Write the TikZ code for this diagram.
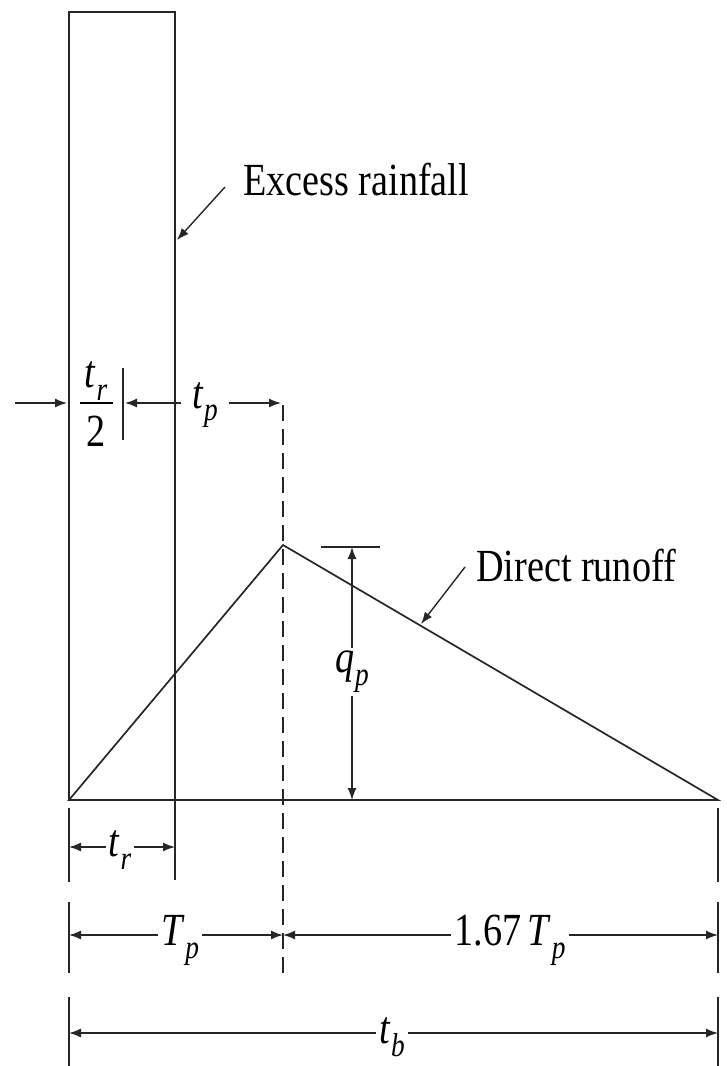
\documentclass[tikz,border=0pt]{standalone}
\usepackage{fontspec}
\usepackage{graphicx}
\setmainfont{Liberation Serif}
\usetikzlibrary{arrows.meta}
\newcommand\cx[1]{\scalebox{0.83}[1]{#1}}
\newcommand\vsub[2]{\cx{\textit{#1}\kern0.02em\raisebox{-0.28em}{\fontsize{33}{35}\selectfont\textit{#2}}}}
\tikzset{
  outline/.style={line width=1.7pt, black!85},
  dimline/.style={line width=1.4pt, black!85},
  tip/.tip={Latex[length=12pt,width=9pt]},
  both/.style={dimline, tip-tip},
  toend/.style={dimline, -tip},
  lbl/.style={font=\fontsize{46}{48}\selectfont, inner sep=3pt},
  cover/.style={lbl, fill=white},
  dashv/.style={line width=1.4pt, black!85, dash pattern=on 16pt off 8pt}
}
\begin{document}
\begin{tikzpicture}[x=1pt,y=-1pt]
\useasboundingbox (0,0) rectangle (727,1066);
% key points
\coordinate (o) at (69,800);
\coordinate (rtl) at (69,12);
\coordinate (rtr) at (175,12);
\coordinate (rbr) at (175,880);
\coordinate (pk) at (283,545);
\coordinate (end) at (718,800);
% rainfall rectangle
\draw[outline] (o) -- (rtl) -- (rtr) -- (rbr);
% hydrograph
\draw[outline] (o) -- (pk) -- (end) -- cycle;
% dashed vertical through peak
\coordinate (dtop) at (283,405);
\coordinate (dbot) at (283,977);
\draw[dashv] (dtop) -- (dbot);
% extension lines
\foreach \x in {69,718}{
  \draw[outline] (\x,808) -- (\x,882);
  \draw[outline] (\x,902) -- (\x,973);
  \draw[outline] (\x,997) -- (\x,1066);
}
% t_r/2 and t_p at top
\coordinate (a0) at (15,403);
\coordinate (a1) at (67,403);
\draw[toend] (a0) -- (a1);
\node[lbl] (frn) at (96,381) {\vsub{t}{r}};
\coordinate (fb0) at (80,403);
\coordinate (fb1) at (113,403);
\draw[line width=1.2pt] (fb0) -- (fb1);
\node[lbl] (frd) at (96,431) {\cx{2}};
\coordinate (tk0) at (123,368);
\coordinate (tk1) at (123,440);
\draw[outline] (tk0) -- (tk1);
\coordinate (tpa) at (125,403);
\coordinate (tpb) at (281,403);
\draw[both] (tpa) -- (tpb);
\node[cover, minimum width=48pt] (tpl) at (205,405) {\vsub{t}{p}};
\draw[outline] (175,380) -- (175,430);
% labels with arrows
\node[lbl, anchor=base west] (ex) at (240,195) {\cx{Excess rainfall}};
\coordinate (exs) at (225,187);
\coordinate (exe) at (177,240);
\draw[toend] (exs) -- (exe);
\node[lbl, anchor=base west] (dr) at (473,581) {\cx{Direct runoff}};
\coordinate (drs) at (465,567);
\coordinate (dre) at (421,624);
\draw[toend] (drs) -- (dre);
% q_p
\coordinate (qt0) at (321,547);
\coordinate (qt1) at (380,547);
\draw[outline] (qt0) -- (qt1);
\coordinate (qa) at (352,547);
\coordinate (qb) at (352,800);
\draw[both] (qa) -- (qb);
\node[cover] (qpl) at (352,672) {\vsub{q}{p}};
% t_r bottom
\coordinate (b1a) at (69,847);
\coordinate (b1b) at (175,847);
\draw[both] (b1a) -- (b1b);
\node[cover] (trl) at (120,850) {\vsub{t}{r}};
% T_p and 1.67 T_p
\coordinate (b2a) at (69,935);
\coordinate (b2b) at (283,935);
\coordinate (b2c) at (718,935);
\draw[both] (b2a) -- (b2b);
\draw[both] (b2b) -- (b2c);
\node[cover] (Tpl) at (180,940) {\vsub{T}{p}};
\node[cover] (T167) at (510,940) {\cx{1.67\,}\vsub{T}{p}};
% t_b
\coordinate (b3a) at (69,1033);
\coordinate (b3b) at (718,1033);
\draw[both] (b3a) -- (b3b);
\node[cover] (tbl) at (392,1037) {\vsub{t}{b}};
\end{tikzpicture}
\end{document}
